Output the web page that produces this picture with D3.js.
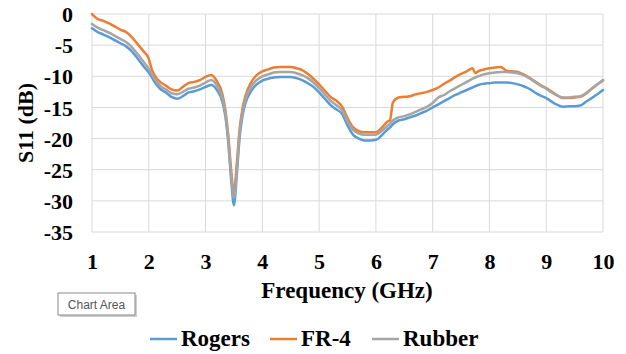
<!DOCTYPE html>
<html>
<head>
<meta charset="utf-8">
<script src="https://cdn.jsdelivr.net/npm/d3@7"></script>
<style>
  html, body { margin: 0; padding: 0; background: #fff; }
  svg { display: block; }
  .serif { font-family: "Liberation Serif", "DejaVu Serif", "Noto Serif", serif; font-weight: bold; }
</style>
</head>
<body>
<svg id="chart" width="626" height="354"></svg>
<script>
const freq = [1.0,1.1,1.2,1.3,1.4,1.5,1.6,1.7,1.8,1.9,2.0,2.05,2.1,2.2,2.3,2.4,2.5,2.6,2.7,2.8,2.9,3.0,3.1,3.2,3.3,3.35,3.4,3.45,3.5,3.55,3.6,3.65,3.7,3.8,3.9,4.0,4.1,4.2,4.3,4.4,4.5,4.6,4.7,4.8,4.9,5.0,5.1,5.2,5.3,5.4,5.5,5.6,5.7,5.8,5.9,6.0,6.1,6.2,6.25,6.3,6.4,6.5,6.6,6.7,6.8,6.9,7.0,7.1,7.2,7.3,7.4,7.5,7.6,7.7,7.75,7.8,7.9,8.0,8.1,8.2,8.3,8.4,8.5,8.6,8.7,8.8,8.9,9.0,9.1,9.2,9.3,9.4,9.5,9.6,9.7,9.8,9.9,10.0];

const rogers = [-2.3,-2.9,-3.3,-3.7,-4.2,-4.7,-5.2,-6.0,-7.1,-8.3,-9.4,-10.1,-10.9,-12.0,-12.6,-13.3,-13.6,-13.2,-12.6,-12.4,-12.1,-11.7,-11.4,-12.2,-14.2,-16.5,-20.6,-26.5,-30.7,-25.8,-19.8,-16.4,-14.4,-12.4,-11.3,-10.7,-10.4,-10.2,-10.1,-10.1,-10.1,-10.3,-10.6,-11.1,-11.7,-12.6,-13.6,-14.6,-15.3,-16.0,-17.9,-19.4,-20.0,-20.3,-20.3,-20.2,-19.5,-18.6,-18.2,-17.7,-17.1,-16.9,-16.6,-16.3,-15.9,-15.5,-15.0,-14.5,-14.0,-13.5,-13.0,-12.6,-12.2,-11.8,-11.6,-11.4,-11.2,-11.1,-11.0,-11.0,-11.0,-11.1,-11.3,-11.6,-12.0,-12.6,-13.1,-13.5,-14.1,-14.6,-14.9,-14.8,-14.8,-14.7,-14.1,-13.5,-12.9,-12.2];

const fr4 = [0.0,-0.8,-1.1,-1.5,-2.0,-2.5,-2.9,-3.7,-4.8,-5.9,-7.2,-8.8,-9.8,-10.9,-11.5,-12.1,-12.3,-11.7,-11.1,-10.9,-10.6,-10.1,-9.8,-10.8,-13.0,-15.5,-19.5,-25.0,-28.7,-24.0,-18.5,-15.2,-13.2,-11.0,-9.8,-9.2,-8.9,-8.6,-8.5,-8.5,-8.5,-8.7,-9.0,-9.6,-10.4,-11.3,-12.3,-13.3,-13.9,-14.8,-16.7,-18.2,-18.8,-19.0,-19.0,-19.0,-18.3,-17.3,-17.0,-14.2,-13.4,-13.3,-13.2,-12.9,-12.7,-12.5,-12.2,-11.8,-11.2,-10.7,-10.1,-9.6,-9.2,-8.7,-9.5,-9.2,-8.9,-8.7,-8.6,-8.5,-9.1,-9.2,-9.3,-9.7,-10.2,-10.8,-11.4,-11.9,-12.5,-13.1,-13.5,-13.5,-13.4,-13.3,-12.8,-12.0,-11.3,-10.6];

const rubber = [-1.6,-2.2,-2.6,-3.0,-3.5,-4.0,-4.5,-5.3,-6.4,-7.6,-8.8,-9.6,-10.4,-11.5,-12.1,-12.7,-12.9,-12.5,-12.0,-11.8,-11.5,-11.0,-10.6,-11.5,-13.6,-16.0,-20.0,-25.8,-29.5,-25.0,-19.2,-15.8,-13.8,-11.7,-10.6,-10.0,-9.7,-9.4,-9.3,-9.3,-9.3,-9.5,-9.8,-10.3,-11.0,-11.9,-12.9,-13.9,-14.6,-15.4,-17.2,-18.6,-19.2,-19.4,-19.4,-19.4,-18.8,-18.0,-17.6,-17.1,-16.6,-16.4,-16.1,-15.7,-15.3,-14.9,-14.3,-13.4,-13.0,-12.4,-11.9,-11.4,-10.9,-10.4,-10.2,-10.0,-9.7,-9.5,-9.4,-9.3,-9.3,-9.4,-9.5,-9.8,-10.3,-10.9,-11.5,-12.0,-12.6,-13.1,-13.4,-13.4,-13.3,-13.2,-12.7,-12.0,-11.3,-10.7];

const seriesNames = ["Rogers", "FR-4", "Rubber"];
const seriesColors = ["#5B9BD5", "#ED7D31", "#A5A5A5"];
const xTicks = [1,2,3,4,5,6,7,8,9,10];
const yTicks = [0,-5,-10,-15,-20,-25,-30,-35];

(function () {
const svg = d3.select("#chart");
const pLeft = 92, pRight = 603, pTop = 14, pBottom = 232;

const x = d3.scaleLinear().domain([1, 10]).range([pLeft, pRight]);
const y = d3.scaleLinear().domain([-35, 0]).range([pBottom, pTop]);

// gridlines
const grid = svg.append("g");
grid.selectAll("line.v").data(xTicks).join("line").attr("class", "v")
  .attr("x1", d => x(d)).attr("x2", d => x(d))
  .attr("y1", pTop).attr("y2", pBottom)
  .attr("stroke", "#d9d9d9").attr("stroke-width", 1);
grid.selectAll("line.h").data(yTicks).join("line").attr("class", "h")
  .attr("x1", pLeft).attr("x2", pRight)
  .attr("y1", d => y(d)).attr("y2", d => y(d))
  .attr("stroke", "#d9d9d9").attr("stroke-width", 1);

// axes (labels only)
const xAxis = d3.axisBottom(x).tickValues(xTicks).tickSize(0).tickPadding(0).tickFormat(d3.format("d"));
const gx = svg.append("g").attr("transform", `translate(0,${pBottom})`).call(xAxis);
gx.attr("font-family", null).attr("font-size", null);
gx.select(".domain").remove();
gx.selectAll("text").attr("dy", null).attr("y", 37).attr("class", "serif")
  .style("font-size", "22px").attr("fill", "#000");

const yAxis = d3.axisLeft(y).tickValues(yTicks).tickSize(0).tickPadding(0).tickFormat(d3.format("d"));
const gy = svg.append("g").attr("transform", `translate(73,0)`).call(yAxis);
gy.attr("font-family", null).attr("font-size", null);
gy.select(".domain").remove();
gy.selectAll("text").attr("x", 0).attr("dy", "0.35em").attr("class", "serif")
  .style("font-size", "22px").attr("fill", "#000")
  .text(d => d === 0 ? "0" : "-" + Math.abs(d));

// lines
const allSeries = [rogers, fr4, rubber];
const line = d3.line().x((d, i) => x(freq[i])).y(d => y(d)).curve(d3.curveMonotoneX);
svg.append("g").selectAll("path").data(allSeries).join("path")
  .attr("d", d => line(d))
  .attr("fill", "none")
  .attr("stroke", (d, i) => seriesColors[i])
  .attr("stroke-width", 2.5)
  .attr("stroke-linejoin", "round")
  .attr("stroke-linecap", "round");

// axis titles
svg.append("text").attr("x", 347).attr("y", 298).attr("text-anchor", "middle")
  .attr("class", "serif").style("font-size", "23px")
  .text("Frequency (GHz)");
svg.append("text").attr("transform", "translate(33,123) rotate(-90)").attr("text-anchor", "middle")
  .attr("class", "serif").style("font-size", "22px")
  .text("S11 (dB)");

// legend
const legendX = [150, 270, 372];
const lg = svg.append("g");
seriesNames.forEach((name, i) => {
  lg.append("line").attr("x1", legendX[i]).attr("x2", legendX[i] + 27)
    .attr("y1", 339).attr("y2", 339)
    .attr("stroke", seriesColors[i]).attr("stroke-width", 2.5);
  lg.append("text").attr("x", legendX[i] + 31).attr("y", 346)
    .attr("class", "serif").style("font-size", "23px")
    .text(name);
});

// "Chart Area" tooltip
const tip = svg.append("g");
tip.append("rect").attr("x", 60).attr("y", 295).attr("width", 77).attr("height", 22).attr("fill", "#cfcfcf");
tip.append("rect").attr("x", 58).attr("y", 293).attr("width", 77).attr("height", 22)
  .attr("fill", "#fff").attr("stroke", "#8a8a8a").attr("stroke-width", 1);
tip.append("text").attr("x", 96.5).attr("y", 308.5).attr("text-anchor", "middle")
  .attr("font-family", "'Liberation Sans', Arial, sans-serif").attr("font-size", 12).attr("fill", "#555")
  .text("Chart Area");
})();
</script>
</body>
</html>
